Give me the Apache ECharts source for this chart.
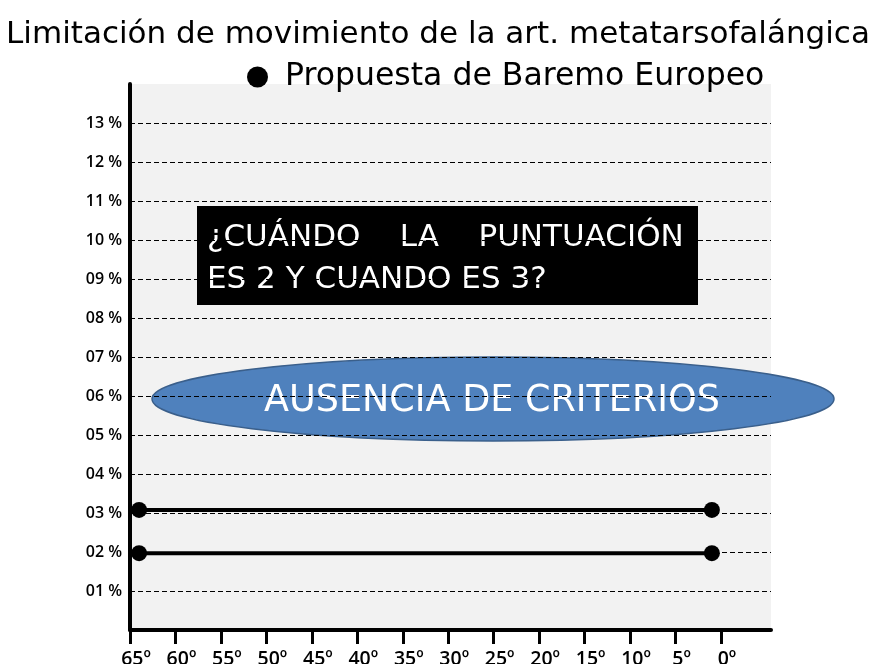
<!DOCTYPE html>
<html>
<head>
<meta charset="utf-8">
<script src="https://cdn.jsdelivr.net/npm/echarts@6/dist/echarts.min.js"></script>
<style>
  html, body { margin: 0; padding: 0; background: #fff; }
  #chart { width: 876px; height: 664px; }
</style>
</head>
<body>
<div id="chart"></div>
<script>
// datos
const gradosTicks = [65, 60, 55, 50, 45, 40, 35, 30, 25, 20, 15, 10, 5, 0];
const puntuacion3 = [[64, 3.08], [1, 3.08]];
const puntuacion2 = [[64, 1.97], [1, 1.97]];
const serieNombre = 'Propuesta de Baremo Europeo';

const FONT = '"DejaVu Sans", "Open Sans", sans-serif';
const FONT_EJES = '"Open Sans", "DejaVu Sans", sans-serif';

const myChart = echarts.init(document.getElementById('chart'));

const lineSerie = (data) => ({
  name: serieNombre,
  type: 'line',
  data: data,
  symbol: 'circle',
  symbolSize: 16,
  lineStyle: { color: '#000', width: 4 },
  itemStyle: { color: '#000' },
  z: 5
});

const option = {
  animation: false,
  title: {
    text: 'Limitación de movimiento de la art. metatarsofalángica',
    left: 'center',
    top: 14,
    textStyle: { fontFamily: FONT, fontSize: 31, fontWeight: 'normal', color: '#000' }
  },
  legend: {
    data: [serieNombre],
    top: 56,
    left: 242,
    icon: 'circle',
    itemWidth: 21,
    itemHeight: 21,
    textStyle: { fontFamily: FONT, fontSize: 31.5, color: '#000', padding: [0, 0, 0, 12] }
  },
  grid: {
    left: 130, right: 105, top: 84, bottom: 34,
    outerBoundsMode: 'none',
    containLabel: false,
    show: true,
    backgroundColor: '#f2f2f2',
    borderWidth: 0
  },
  xAxis: {
    type: 'value',
    inverse: true,
    min: -5.5,
    max: 65,
    axisLine: { onZero: false, lineStyle: { color: '#000', width: 4 } },
    axisTick: { show: true, customValues: gradosTicks, length: 14, lineStyle: { color: '#000', width: 3 } },
    axisLabel: {
      customValues: gradosTicks,
      margin: 19,
      padding: [0, 0, 0, 12],
      formatter: v => v + 'º',
      fontFamily: FONT_EJES, fontSize: 19.5, fontWeight: 600, color: '#000'
    },
    splitLine: { show: false }
  },
  yAxis: {
    type: 'value',
    position: 'left',
    min: 0,
    max: 14,
    interval: 1,
    axisLine: { show: true, onZero: false, lineStyle: { color: '#000', width: 4 } },
    axisTick: { show: false },
    axisLabel: {
      margin: 8,
      formatter: v => (v === 0 || v === 14) ? '' : String(v).padStart(2, '0') + ' %',
      fontFamily: FONT_EJES, fontSize: 16, fontWeight: 600, color: '#000'
    },
    splitLine: {
      show: true,
      showMinLine: false,
      showMaxLine: false,
      lineStyle: { color: '#000', width: 1, type: [5, 3] }
    }
  },
  graphic: [
    {
      type: 'group',
      z: 100,
      children: [
        { type: 'rect', shape: { x: 197, y: 206, width: 501, height: 99 }, style: { fill: '#000' } },
        { type: 'text', style: { text: '¿CUÁNDO    LA    PUNTUACIÓN', x: 207, y: 238, verticalAlign: 'middle', fill: '#fff', font: '31px ' + FONT } },
        { type: 'text', style: { text: 'ES 2 Y CUANDO ES 3?', x: 207, y: 280, verticalAlign: 'middle', fill: '#fff', font: '31px ' + FONT } }
      ]
    },
    {
      type: 'group',
      z: 100,
      children: [
        { type: 'ellipse', shape: { cx: 493, cy: 399, rx: 341, ry: 42 }, style: { fill: '#4f81bd', stroke: '#3a5f8b', lineWidth: 1.5 } },
        { type: 'text', style: { text: 'AUSENCIA DE CRITERIOS', x: 492, y: 402, align: 'center', verticalAlign: 'middle', fill: '#fff', font: '36.5px ' + FONT } }
      ]
    }
  ],
  series: [lineSerie(puntuacion3), lineSerie(puntuacion2)]
};

myChart.setOption(option);
</script>
</body>
</html>
